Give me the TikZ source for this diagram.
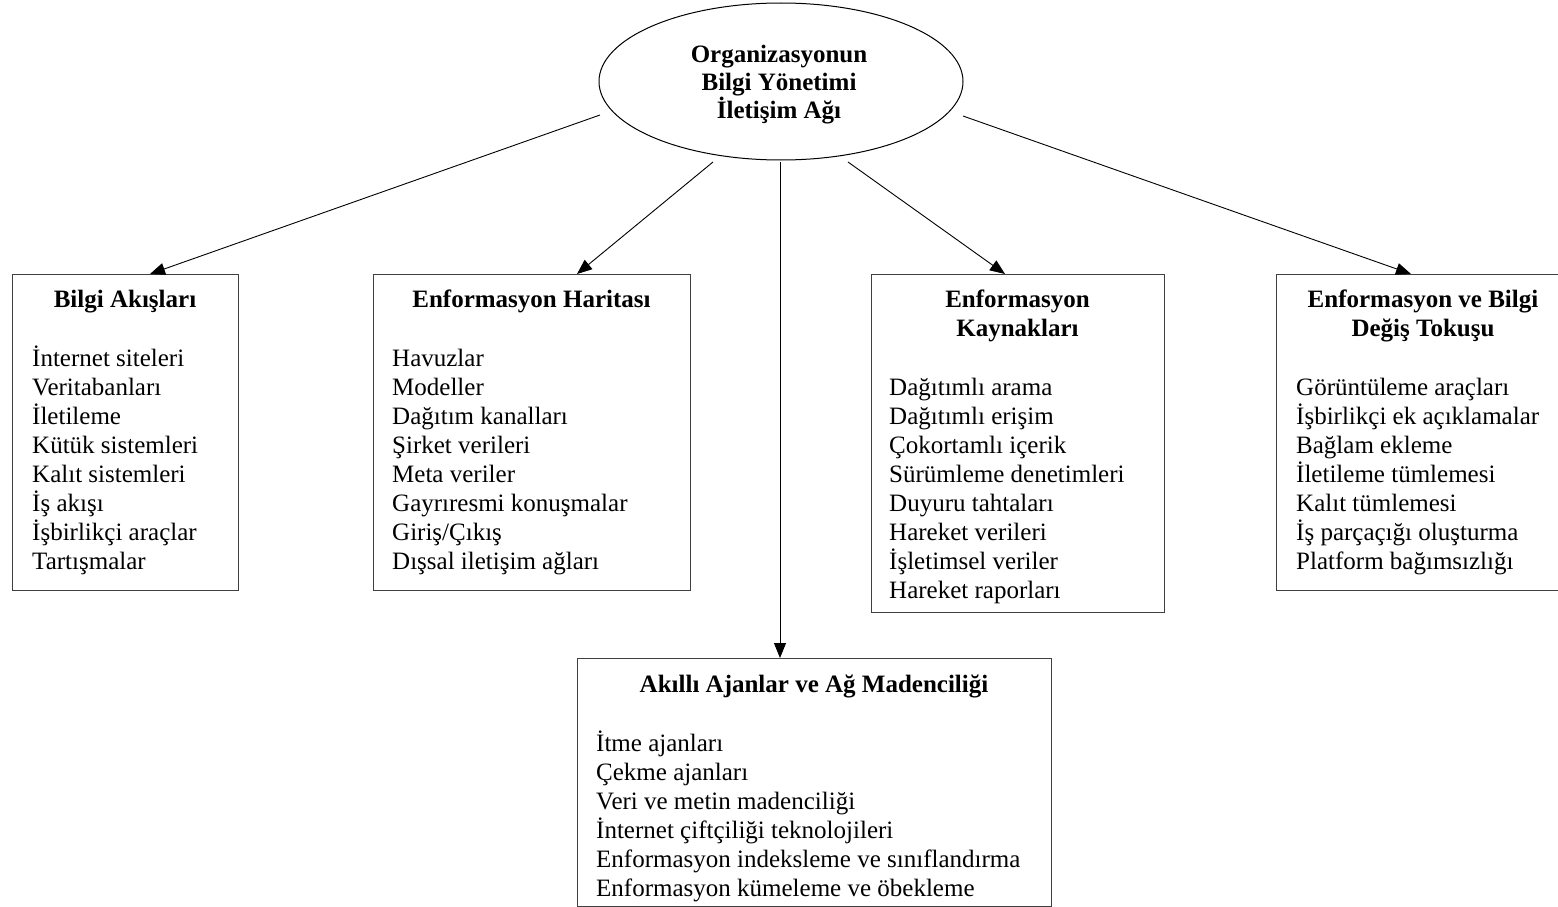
\documentclass[tikz,border=0pt]{standalone}
\usepackage{fontspec}
\setmainfont{Liberation Serif}
\usetikzlibrary{shapes.geometric,arrows.meta}
\begin{document}
\begin{tikzpicture}[x=1pt,y=-1pt,
  txt/.style={inner sep=0pt, font=\fontsize{25}{29}\selectfont},
  head/.style={inner sep=0pt, font=\fontsize{25}{29}\selectfont\bfseries, anchor=base},
  item/.style={txt, anchor=base west},
  box/.style={draw=black!75, line width=1.1pt, rectangle, inner sep=0pt, anchor=north west},
  hubstyle/.style={draw=black, line width=1pt, ellipse, inner sep=0pt},
  link/.style={draw=black, line width=0.9pt, -{Triangle[length=15pt,width=12pt]}}]
\clip (0,0) rectangle (1558,907);

% central ellipse
\node[hubstyle, minimum width=364pt, minimum height=157pt] (hub) at (781,81.5) {};
\node[head] (hub1) at (779,63) {Organizasyonun};
\node[head] (hub2) at (779,91) {Bilgi Yönetimi};
\node[head] (hub3) at (779,118.5) {İletişim Ağı};

% boxes
\node[box, minimum width=226pt, minimum height=316pt] (b1) at (12,274) {};
\node[box, minimum width=317pt, minimum height=316pt] (b2) at (373,274) {};
\node[box, minimum width=293pt, minimum height=338pt] (b3) at (871,274) {};
\node[box, minimum width=294pt, minimum height=316pt] (b4) at (1276,274) {};
\node[box, minimum width=474pt, minimum height=248pt] (b5) at (577,658) {};

% box titles
\node[head] (h1) at (125,307) {Bilgi Akışları};
\node[head] (h2) at (531.5,307) {Enformasyon Haritası};
\node[head] (h3a) at (1017.5,307) {Enformasyon};
\node[head] (h3b) at (1017.5,336) {Kaynakları};
\node[head] (h4a) at (1423,307) {Enformasyon ve Bilgi};
\node[head] (h4b) at (1423,336) {Değiş Tokuşu};
\node[head] (h5) at (814,692) {Akıllı Ajanlar ve Ağ Madenciliği};

% box contents
\foreach \t [count=\i] in {İnternet siteleri, Veritabanları, İletileme, Kütük sistemleri,
  Kalıt sistemleri, İş akışı, İşbirlikçi araçlar, Tartışmalar}
  \node[item] (b1i\i) at (32,{366+29*(\i-1)}) {\t};
\foreach \t [count=\i] in {Havuzlar, Modeller, Dağıtım kanalları, Şirket verileri,
  Meta veriler, Gayrıresmi konuşmalar, Giriş/Çıkış, Dışsal iletişim ağları}
  \node[item] (b2i\i) at (392,{366+29*(\i-1)}) {\t};
\foreach \t [count=\i] in {Dağıtımlı arama, Dağıtımlı erişim, Çokortamlı içerik,
  Sürümleme denetimleri, Duyuru tahtaları, Hareket verileri, İşletimsel veriler,
  Hareket raporları}
  \node[item] (b3i\i) at (889,{395+29*(\i-1)}) {\t};
\foreach \t [count=\i] in {Görüntüleme araçları, İşbirlikçi ek açıklamalar,
  Bağlam ekleme, İletileme tümlemesi, Kalıt tümlemesi, İş parçaçığı oluşturma,
  Platform bağımsızlığı}
  \node[item] (b4i\i) at (1296,{395+29*(\i-1)}) {\t};
\foreach \t [count=\i] in {İtme ajanları, Çekme ajanları, Veri ve metin madenciliği,
  İnternet çiftçiliği teknolojileri, Enformasyon indeksleme ve sınıflandırma,
  Enformasyon kümeleme ve öbekleme}
  \node[item] (b5i\i) at (596,{751+29*(\i-1)}) {\t};

% connector start points below the ellipse
\coordinate (s1) at (600,115);
\coordinate (s2) at (713,162);
\coordinate (s3) at (780,162);
\coordinate (s4) at (848,162);
\coordinate (s5) at (963,116);

% connectors
\draw[link] (s1) -- ([xshift=138pt]b1.north west);
\draw[link] (s2) -- ([xshift=204pt]b2.north west);
\draw[link] (s3) -- ([xshift=203pt]b5.north west);
\draw[link] (s4) -- ([xshift=134pt]b3.north west);
\draw[link] (s5) -- ([xshift=135pt]b4.north west);
\end{tikzpicture}
\end{document}
